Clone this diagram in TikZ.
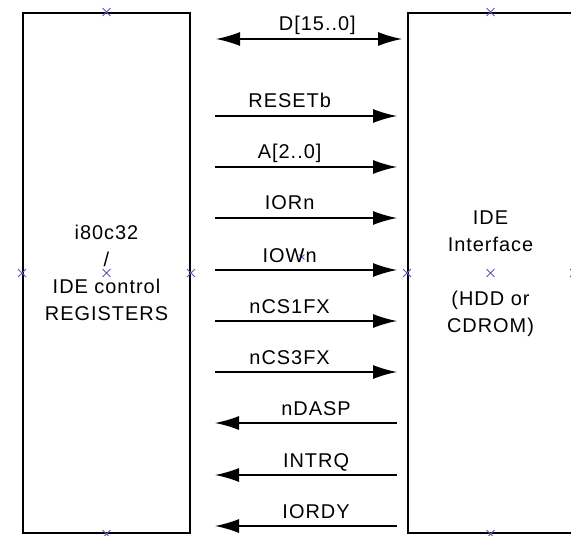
\documentclass[tikz,border=0pt]{standalone}
\usepackage{fontspec}
\newfontfamily\schfont{Liberation Sans}[LetterSpace=5]
\usetikzlibrary{arrows.meta, shapes.misc}
\definecolor{pinblue}{RGB}{95,85,190}

\begin{document}
\begin{tikzpicture}[x=1bp, y=-1bp, line width=1.4bp, >={Latex[length=24bp, width=14bp]},
        blk/.style = {draw, line width=1.8bp, inner sep=0pt},
        sig/.style = {font=\schfont\fontsize{20}{24}\selectfont, inner sep=0pt, anchor=base, yshift=8bp},
        txt/.style = {align=center, font=\schfont\fontsize{20}{27}\selectfont, inner sep=0pt},
        pin/.style = {draw=pinblue, cross out, line width=0.9bp, minimum size=7bp, inner sep=0pt}]

    \useasboundingbox (0,0) rectangle (571,536);

    % the two blocks
    \node[blk, minimum width=167bp, minimum height=520bp] (cpu) at (106.5,273) {};
    \node[blk, minimum width=165bp, minimum height=520bp] (ide) at (490.5,273) {};

    \node[txt] (cputxt) at (cpu.center) {i80c32\\/\\IDE control\\REGISTERS};
    \node[txt] (idetxt) at (490.5,231) {IDE\\Interface};
    \node[txt] (idesub) at (490.5,313.5) {(HDD or\\CDROM)};

    % pin marks
    \node[pin] at (cpu.north) {}; \node[pin] at (cpu.south) {}; \node[pin] at (cpu.west) {}; \node[pin] at (cpu.east) {}; \node[pin] at (cpu.center) {};
    \node[pin] at (ide.north) {}; \node[pin] at (ide.south) {}; \node[pin] at (ide.west) {}; \node[pin] at (ide.east) {}; \node[pin] at (ide.center) {};
    \node[pin, minimum size=4bp] at (302,257) {};

    \foreach \n/\y in {rst/116, a/167, ior/218, iow/270, cs1/321, cs3/372, dasp/423, intrq/475, iordy/526} {
        \coordinate (\n L) at (215,\y); \coordinate (\n R) at (397,\y);
    }
    \coordinate (dL) at (216,39); \coordinate (dR) at (402,39);

    % data bus
    \draw[<->] (dL) -- node[sig, pos=.545] {D[15..0]} (dR);

    % outputs of the controller
    \draw[->] (rstL) -- node[sig, pos=.41] {RESETb} (rstR);
    \draw[->] (aL) -- node[sig, pos=.41] {A[2..0]} (aR);
    \draw[->] (iorL) -- node[sig, pos=.41] {IORn} (iorR);
    \draw[->] (iowL) -- node[sig, pos=.41] {IOWn} (iowR);
    \draw[->] (cs1L) -- node[sig, pos=.41] {nCS1FX} (cs1R);
    \draw[->] (cs3L) -- node[sig, pos=.41] {nCS3FX} (cs3R);

    % inputs from the drive
    \draw[->] (daspR) -- node[sig, pos=.445] {nDASP} (daspL);
    \draw[->] (intrqR) -- node[sig, pos=.445] {INTRQ} (intrqL);
    \draw[->] (iordyR) -- node[sig, pos=.445] {IORDY} (iordyL);
\end{tikzpicture}
\end{document}
